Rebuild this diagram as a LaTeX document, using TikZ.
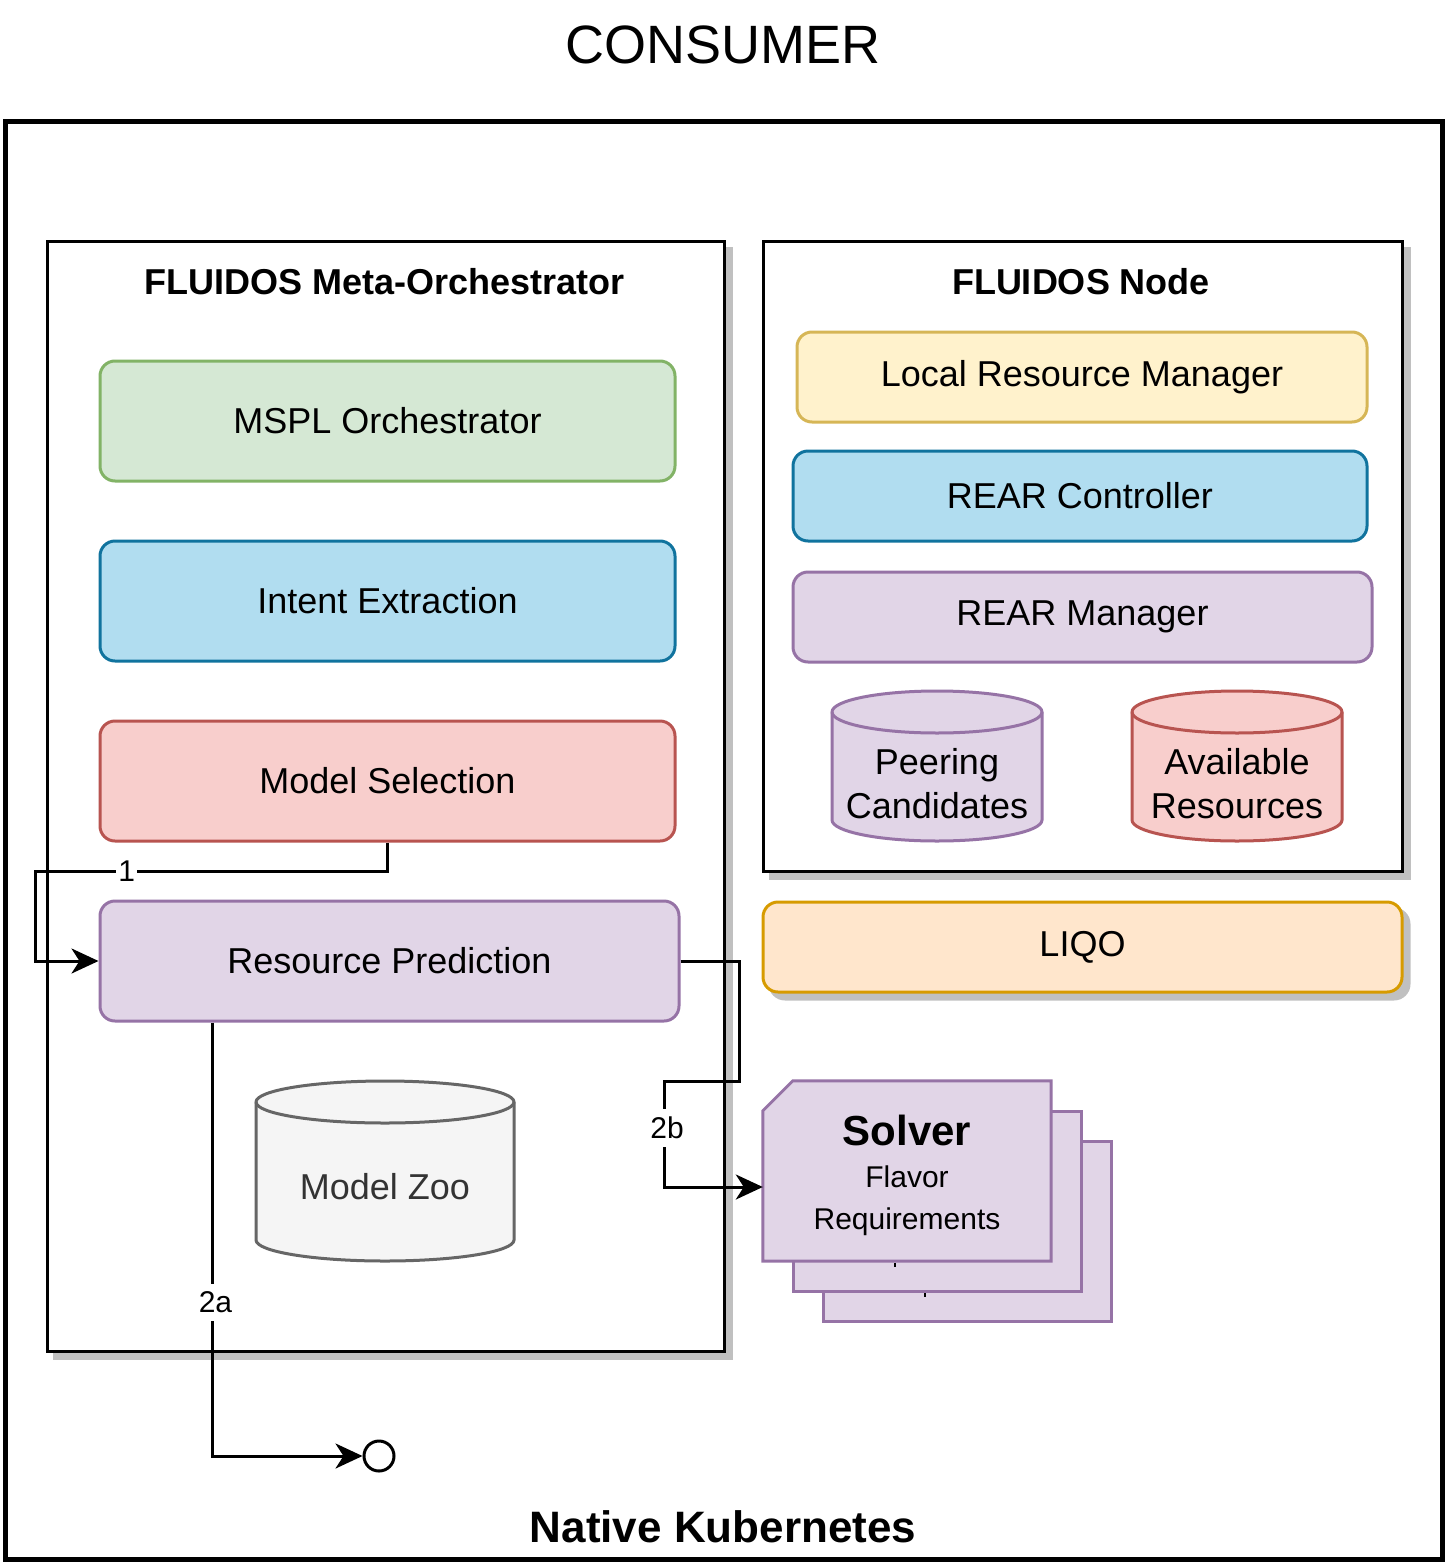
\documentclass[tikz,border=0pt]{standalone}
\usepackage{fontspec}
\setmainfont{Liberation Sans}
\usepackage{xcolor}
\usetikzlibrary{arrows.meta}

\definecolor{greenfill}{HTML}{D5E8D4}
\definecolor{greenline}{HTML}{82B366}
\definecolor{bluefill}{HTML}{B1DDF0}
\definecolor{blueline}{HTML}{10739E}
\definecolor{redfill}{HTML}{F8CECC}
\definecolor{redline}{HTML}{B85450}
\definecolor{purplefill}{HTML}{E1D5E7}
\definecolor{purpleline}{HTML}{9673A6}
\definecolor{yellowfill}{HTML}{FFF2CC}
\definecolor{yellowline}{HTML}{D6B656}
\definecolor{orangefill}{HTML}{FFE6CC}
\definecolor{orangeline}{HTML}{D79B00}
\definecolor{zoofill}{HTML}{F5F5F5}
\definecolor{zooline}{HTML}{666666}
\definecolor{zootext}{HTML}{333333}
\definecolor{shadowgray}{HTML}{C0C0C0}

% database drum: left, top, right, bottom, style
\newcommand{\drum}[5]{%
  \pgfmathsetmacro{\drumcx}{(#1+#3)/2}%
  \pgfmathsetmacro{\drumkx}{0.5523*(#3-#1)/2}%
  \pgfmathsetmacro{\drumtop}{#2+21}%
  \pgfmathsetmacro{\drumbot}{#4-21}%
  \pgfmathsetmacro{\drummid}{#2+42}%
  \draw[#5] (#1,\drumtop) -- (#1,\drumbot)
    .. controls (#1,\drumbot+11.6) and (\drumcx-\drumkx,#4) .. (\drumcx,#4)
    .. controls (\drumcx+\drumkx,#4) and (#3,\drumbot+11.6) .. (#3,\drumbot)
    -- (#3,\drumtop)
    .. controls (#3,\drumtop-11.6) and (\drumcx+\drumkx,#2) .. (\drumcx,#2)
    .. controls (\drumcx-\drumkx,#2) and (#1,\drumtop-11.6) .. (#1,\drumtop) -- cycle;
  \draw[#5, fill=none] (#1,\drumtop)
    .. controls (#1,\drumtop+11.6) and (\drumcx-\drumkx,\drummid) .. (\drumcx,\drummid)
    .. controls (\drumcx+\drumkx,\drummid) and (#3,\drumtop+11.6) .. (#3,\drumtop);
}

\begin{document}
\begin{tikzpicture}[x=1pt, y=-1pt,
    every node/.style={font=\fontsize{36pt}{44pt}\selectfont},
    shadowed/.style={preaction={fill=shadowgray, draw=shadowgray, transform canvas={xshift=7pt, yshift=-7pt}}},
    frame/.style={draw, line width=3pt, fill=white, shadowed},
    head/.style={font=\fontsize{36pt}{44pt}\selectfont\bfseries},
    comp/.style={draw, line width=3pt, rounded corners=15pt, align=center},
    card/.style={draw=purpleline, fill=purplefill, line width=3pt, minimum width=288pt, minimum height=180pt},
    cardtext/.style={align=center, font=\fontsize{30pt}{42pt}\selectfont},
    conn/.style={line width=3pt, -{Stealth[length=27pt, width=25pt, inset=8pt]}},
    lbl/.style={fill=white, inner xsep=2pt, inner ysep=8pt, font=\fontsize{30pt}{36pt}\selectfont}]
    \useasboundingbox (0,0) rectangle (1446,1563);
    % Outer frame
    \node[font=\fontsize{54pt}{60pt}\selectfont] (consumer) at (723,45) {CONSUMER};
    \node[draw, line width=5pt, minimum width=1437pt, minimum height=1438pt] (k8s) at (723.5,840) {};
    \node[font=\fontsize{44pt}{50pt}\selectfont\bfseries] (k8stitle) at (723,1527) {Native Kubernetes};
    % Containers
    \node[frame, minimum width=677pt, minimum height=1110pt] (meta) at (385.5,796) {};
    \node[head] (metatitle) at (385,282) {FLUIDOS Meta-Orchestrator};
    \node[frame, minimum width=639pt, minimum height=630pt] (fnode) at (1082.5,556) {};
    \node[head] (fnodetitle) at (1081,282) {FLUIDOS Node};
    % Meta-orchestrator parts
    \node[comp, draw=greenline, fill=greenfill, minimum width=575pt, minimum height=120pt] (mspl) at (387.5,421) {MSPL Orchestrator};
    \node[comp, draw=blueline, fill=bluefill, minimum width=575pt, minimum height=120pt] (intent) at (387.5,601) {Intent Extraction};
    \node[comp, draw=redline, fill=redfill, minimum width=575pt, minimum height=120pt] (msel) at (387.5,781) {Model Selection};
    \node[comp, draw=purpleline, fill=purplefill, minimum width=579pt, minimum height=120pt] (pred) at (389.5,961) {Resource Prediction};
    \drum{256}{1081}{514}{1261}{draw=zooline, fill=zoofill, line width=3pt}
    \node[text=zootext] (zoo) at (385,1187) {Model Zoo};
    % FLUIDOS node parts
    \node[comp, draw=yellowline, fill=yellowfill, minimum width=570pt, minimum height=90pt] (lrm) at (1082,377) {Local Resource Manager};
    \node[comp, draw=blueline, fill=bluefill, minimum width=574pt, minimum height=90pt] (rearc) at (1080,496) {REAR Controller};
    \node[comp, draw=purpleline, fill=purplefill, minimum width=579pt, minimum height=90pt] (rearm) at (1082.5,617) {REAR Manager};
    \drum{832}{691}{1042}{841}{draw=purpleline, fill=purplefill, line width=3pt}
    \node[align=center] (peer) at (937,784) {Peering\\Candidates};
    \drum{1132}{691}{1342}{841}{draw=redline, fill=redfill, line width=3pt}
    \node[align=center] (avail) at (1237,784) {Available\\Resources};
    \node[comp, shadowed, draw=orangeline, fill=orangefill, minimum width=639pt, minimum height=90pt] (liqo) at (1082.5,947) {LIQO};
    % Solver stack
    \node[card] (cardthree) at (967,1231) {};
    \draw[line width=2pt] (925,1292.5) -- (925,1297);
    \node[card] (cardtwo) at (937,1201) {};
    \draw[line width=2pt] (895,1262.5) -- (895,1267);
    \node[minimum width=288pt, minimum height=180pt] (solver) at (907,1171) {};
    \draw[card] ([yshift=-30pt]solver.north west) -- ([xshift=30pt]solver.north west) -- (solver.north east)
        -- (solver.south east) -- (solver.south west) -- cycle;
    \node[cardtext] (solvertext) at (907,1175) {{\fontsize{42pt}{50pt}\selectfont\bfseries Solver}\\Flavor\\Requirements};
    \node[circle, draw, line width=3pt, minimum size=30pt, inner sep=0pt] (sink) at (379,1456) {};
    % Flows
    \coordinate (bendone) at (35,871);
    \coordinate (bendtwo) at (739,1081);
    \coordinate (bendthree) at (664,1187);
    \draw[conn] (msel.south) |- node[lbl, pos=0.87] (lblone) {1} (bendone) |- (pred.west);
    \draw[conn] (pred.east) -| (bendtwo) -| node[lbl, pos=0.72, xshift=3pt] (lbltwob) {2b} (bendthree) -- ([yshift=-16pt]solver.west);
    \draw[conn] ([xshift=114pt]pred.south west) |- node[lbl, pos=0.323, xshift=3pt] (lbltwoa) {2a} (sink.west);
\end{tikzpicture}
\end{document}
